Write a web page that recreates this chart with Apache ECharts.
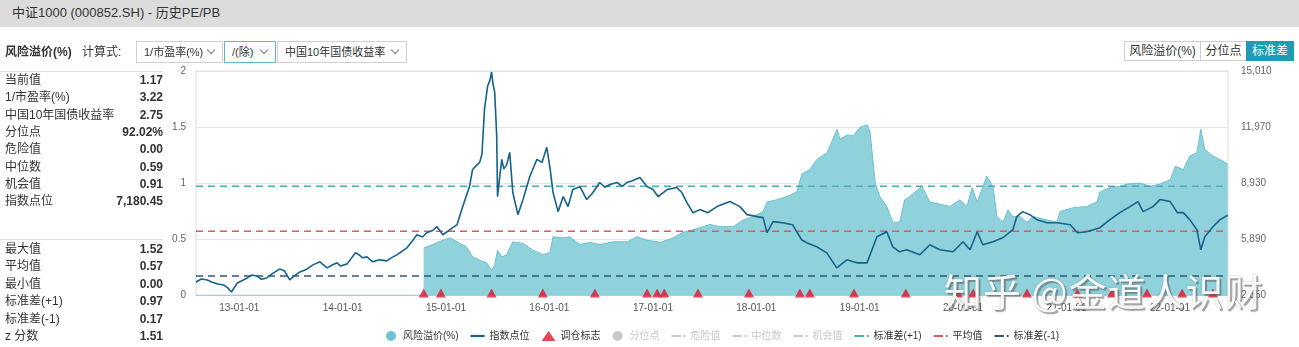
<!DOCTYPE html>
<html>
<head>
<meta charset="utf-8">
<script src="https://cdn.jsdelivr.net/npm/echarts@6/dist/echarts.min.js"></script>
<style>
  html, body { margin: 0; padding: 0; width: 1299px; height: 347px; overflow: hidden; background: #fff;
    font-family: "Helvetica Neue", Helvetica, Arial, "Liberation Sans", "Noto Sans CJK SC", sans-serif; color: #333; }
  #chart { position: absolute; left: 0; top: 0; width: 1299px; height: 347px; z-index: 0; }
  .ov { position: absolute; z-index: 2; }
  #hdr { left: 0; top: 0; width: 1299px; height: 27px; background: #dcdcdc; font-size: 13px; line-height: 25px; padding-left: 12px; box-sizing: border-box; color: #333; }
  .tb { font-size: 12px; line-height: 22px; top: 41px; }
  .box { top: 41px; height: 22px; box-sizing: border-box; border: 1px solid #d0d0d0; font-size: 11px; line-height: 20px; padding-left: 7px; color: #333; background: #fff; }
  .box .chev { position: absolute; right: 8px; top: 5px; width: 5px; height: 5px; border-right: 1px solid #777; border-bottom: 1px solid #777; transform: rotate(45deg); }
  .btn { top: 41px; height: 20px; box-sizing: border-box; border: 1px solid #d0d0d0; font-size: 12px; line-height: 18px; text-align: center; color: #333; background: #fff; }
  .sep { position: absolute; left: 0; width: 163px; height: 1px; background: #dedede; z-index: 2; }
  .row { position: absolute; left: 5px; width: 158px; font-size: 12px; z-index: 2; }
  .row .v { position: absolute; right: 0; top: 0; font-weight: bold; }
  #wm { left: 944px; top: 268px; font-size: 38px; color: rgba(255,255,255,0.92); font-family: "Noto Sans CJK SC", sans-serif; letter-spacing: 1px;
    text-shadow: 2px 2px 1px rgba(90,90,90,0.55), 0 0 2px rgba(120,120,120,0.5); white-space: nowrap; line-height: 44px; }
</style>
</head>
<body>
<div id="chart"></div>
<div id="hdr" class="ov">中证1000 (000852.SH) - 历史PE/PB</div>
<div class="ov tb" style="left:5px;font-weight:bold;">风险溢价(%)</div>
<div class="ov tb" style="left:82px;">计算式:</div>
<div class="ov box" style="left:136px;width:87px;">1/市盈率(%)<span class="chev"></span></div>
<div class="ov box" style="left:224px;width:52px;border-color:#5cb9c9;">/(除)<span class="chev"></span></div>
<div class="ov box" style="left:277px;width:130px;">中国10年国债收益率<span class="chev"></span></div>
<div class="ov btn" style="left:1124px;width:77px;">风险溢价(%)</div>
<div class="ov btn" style="left:1200px;width:47px;">分位点</div>
<div class="ov btn" style="left:1246px;width:48px;background:#1d9db5;border-color:#1d9db5;color:#fff;">标准差</div>
<div id="panel"></div>
<div id="wm" class="ov">知乎 @金道人识财</div>
<script>
// ---- data ----
const statsLabelsTop = ['当前值', '1/市盈率(%)', '中国10年国债收益率', '分位点', '危险值', '中位数', '机会值', '指数点位'];
const statsValuesTop = ['1.17', '3.22', '2.75', '92.02%', '0.00', '0.59', '0.91', '7,180.45'];
const statsLabelsBottom = ['最大值', '平均值', '最小值', '标准差(+1)', '标准差(-1)', 'z 分数'];
const statsValuesBottom = ['1.52', '0.57', '0.00', '0.97', '0.17', '1.51'];

const xRange = ['2012-08-01', '2022-07-25'];
const dangerValue = 0.00;
const medianValue = 0.59;
const opportunityValue = 0.91;
const stdPlusValue = 0.97;
const meanValue = 0.57;
const stdMinusValue = 0.17;

const indexPoints = [
  ['2012-08-01',3559],['2012-08-20',3720],['2012-09-10',3668],['2012-09-25',3560],['2012-10-17',3450],['2012-11-06',3395],['2012-11-20',3250],['2012-12-04',3014],['2012-12-25',3504],
  ['2013-01-29',3777],['2013-02-15',3940],['2013-03-04',3886],['2013-03-20',3700],['2013-04-08',3777],['2013-04-25',3980],['2013-05-24',4268],['2013-06-10',4150],['2013-06-28',3668],['2013-07-15',3900],['2013-08-03',4104],
  ['2013-08-25',4230],['2013-09-18',4486],['2013-10-13',4650],['2013-10-25',4480],['2013-11-07',4322],['2013-11-25',4480],['2013-12-12',4595],['2013-12-25',4420],['2014-01-17',4540],['2014-02-15',5140],
  ['2014-03-01',5020],['2014-03-13',4868],['2014-03-28',4920],['2014-04-17',4650],['2014-05-12',4759],['2014-06-06',4704],['2014-06-20',4850],['2014-07-11',5031],['2014-07-28',5200],['2014-08-16',5413],
  ['2014-09-05',5800],['2014-09-20',6122],['2014-10-10',6000],['2014-10-25',6231],['2014-11-15',6350],['2014-11-30',6558],['2014-12-21',6122],['2015-01-15',6394],['2015-02-09',6667],
  ['2015-03-01',7649],['2015-03-25',8739],['2015-04-05',9666],['2015-04-20',9900],['2015-04-30',10048],['2015-05-08',10500],['2015-05-17',12938],['2015-05-28',14192],
  ['2015-06-05',14500],['2015-06-11',14955],['2015-06-16',14300],['2015-06-22',13865],['2015-06-29',11500],['2015-07-02',8194],['2015-07-10',9300],['2015-07-17',10212],['2015-07-24',9700],['2015-08-03',9900],['2015-08-14',10593],['2015-08-25',8412],
  ['2015-09-12',7212],['2015-09-30',8030],['2015-10-24',9285],['2015-11-18',10212],['2015-12-06',10048],['2015-12-23',10866],
  ['2016-01-04',9666],['2016-01-14',8412],['2016-02-01',7376],['2016-02-19',8194],['2016-03-07',7649],['2016-03-24',8576],
  ['2016-04-18',8739],['2016-05-12',8030],['2016-06-03',8412],['2016-06-27',8957],['2016-07-15',8700],['2016-08-02',8848],['2016-08-27',8957],
  ['2016-09-15',8750],['2016-10-01',8957],['2016-10-20',9050],['2016-11-16',9230],['2016-12-11',8739],['2017-01-01',8576],['2017-01-19',8194],['2017-02-20',8576],
  ['2017-03-26',8685],['2017-04-13',8412],['2017-05-01',7867],['2017-05-22',7321],['2017-06-16',7485],['2017-07-14',7321],
  ['2017-08-15',7649],['2017-09-30',7921],['2017-11-04',7649],['2017-11-29',7212],['2018-01-04',7103],['2018-01-25',7049],
  ['2018-02-08',6231],['2018-03-01',6831],['2018-04-04',6776],['2018-05-09',6667],['2018-06-10',5849],['2018-06-28',5686],
  ['2018-08-02',5467],['2018-09-07',5140],['2018-10-12',4322],['2018-11-17',4759],['2018-12-22',4595],['2019-01-27',4595],
  ['2019-03-03',6013],['2019-04-07',6285],['2019-04-28',5467],['2019-05-22',5195],['2019-06-16',5304],['2019-08-01',5031],
  ['2019-09-06',5577],['2019-10-11',5304],['2019-11-27',5195],['2020-01-01',5740],['2020-01-26',5304],['2020-02-20',6285],
  ['2020-03-11',5577],['2020-04-16',5740],['2020-05-21',5958],['2020-06-25',6394],['2020-07-09',7103],['2020-07-30',7376],
  ['2020-08-24',7212],['2020-09-18',6940],['2020-10-24',6776],['2020-11-28',6776],['2021-01-14',6667],['2021-02-08',6231],
  ['2021-03-13',6285],['2021-04-29',6504],['2021-06-03',6940],['2021-07-08',7321],['2021-08-13',7649],['2021-09-10',7921],
  ['2021-09-28',7376],['2021-11-02',7649],['2021-11-27',8030],['2022-01-02',7921],['2022-01-27',7321],['2022-02-17',7321],
  ['2022-03-12',6940],['2022-04-06',6394],['2022-04-20',5304],['2022-05-04',6013],['2022-06-02',6558],['2022-06-27',6940],
  ['2022-07-24',7180]
];

const premiumPoints = [
  ['2014-10-14',0.42],['2014-11-15',0.45],['2014-12-21',0.49],['2015-01-15',0.51],['2015-02-09',0.475],['2015-03-14',0.43],
  ['2015-04-05',0.34],['2015-04-30',0.31],['2015-05-24',0.29],['2015-06-11',0.22],['2015-06-22',0.27],['2015-07-02',0.40],
  ['2015-07-16',0.34],['2015-08-03',0.36],['2015-08-25',0.475],['2015-09-30',0.46],['2015-11-04',0.40],['2015-12-09',0.36],
  ['2016-01-03',0.38],['2016-01-14',0.52],['2016-02-19',0.51],['2016-03-13',0.52],['2016-04-18',0.45],['2016-05-23',0.47],
  ['2016-06-28',0.45],['2016-08-13',0.475],['2016-10-02',0.475],['2016-11-06',0.52],['2016-12-11',0.49],['2017-01-27',0.47],
  ['2017-03-12',0.51],['2017-04-17',0.56],['2017-06-16',0.60],['2017-07-21',0.63],['2017-08-26',0.61],['2017-10-11',0.61],
  ['2017-11-16',0.67],['2017-12-21',0.70],['2018-01-25',0.745],['2018-02-08',0.83],['2018-03-14',0.85],['2018-04-19',0.88],
  ['2018-05-24',0.92],['2018-06-11',1.08],['2018-07-09',1.12],['2018-08-03',1.21],['2018-09-08',1.27],['2018-10-13',1.48],
  ['2018-10-24',1.39],['2018-11-18',1.43],['2018-12-09',1.42],['2019-01-03',1.50],['2019-01-28',1.52],['2019-02-07',1.45],
  ['2019-02-25',1.00],['2019-03-13',0.88],['2019-04-07',0.79],['2019-04-28',0.65],['2019-05-22',0.65],['2019-06-09',0.85],
  ['2019-06-27',0.88],['2019-08-09',0.97],['2019-09-06',0.83],['2019-10-12',0.81],['2019-11-16',0.79],['2019-12-21',0.85],
  ['2020-01-15',0.79],['2020-02-02',0.96],['2020-02-20',0.83],['2020-03-25',1.06],['2020-04-16',0.97],['2020-04-30',0.70],
  ['2020-05-21',0.65],['2020-06-08',0.76],['2020-06-25',0.70],['2020-07-20',0.70],['2020-08-14',0.65],['2020-09-04',0.70],
  ['2020-10-24',0.67],['2020-11-28',0.65],['2020-12-09',0.745],['2021-01-25',0.78],['2021-03-13',0.79],['2021-04-18',0.83],
  ['2021-04-29',0.92],['2021-06-03',0.96],['2021-07-08',0.97],['2021-08-02',0.99],['2021-09-18',1.00],['2021-10-23',0.97],
  ['2021-11-27',0.99],['2022-01-02',1.03],['2022-01-20',1.15],['2022-02-17',1.12],['2022-03-12',1.24],['2022-04-06',1.27],
  ['2022-04-20',1.48],['2022-05-04',1.30],['2022-06-02',1.24],['2022-06-27',1.21],['2022-07-24',1.17]
];

const tradeDates = ['2014-10-14','2014-12-14','2015-06-11','2015-12-09','2016-06-10','2016-12-11','2017-01-16','2017-02-10',
  '2017-06-09','2017-12-06','2018-06-04','2018-07-09','2018-12-12','2019-06-13','2019-12-14','2020-02-06','2020-08-14',
  '2021-02-08','2021-06-10','2021-10-12','2022-02-13','2022-06-02'];

const percentilePoints = [];

// ---- left panel ----
const panel = document.getElementById('panel');
function addSep(top) { const s = document.createElement('div'); s.className = 'sep'; s.style.top = top + 'px'; panel.appendChild(s); }
function addRows(labels, values, top, step) {
  labels.forEach((lab, i) => {
    const r = document.createElement('div'); r.className = 'row';
    r.style.top = (top + i * step) + 'px'; r.style.lineHeight = step + 'px';
    r.textContent = lab;
    const v = document.createElement('span'); v.className = 'v'; v.textContent = values[i];
    r.appendChild(v); panel.appendChild(r);
  });
}
addSep(71); addRows(statsLabelsTop, statsValuesTop, 72, 17.3);
addSep(239); addRows(statsLabelsBottom, statsValuesBottom, 240.5, 17.5);

// ---- chart ----
const chart = echarts.init(document.getElementById('chart'), null, { renderer: 'canvas' });
const pad = n => (n < 10 ? '0' : '') + n;
const hline = v => [[xRange[0], v], [xRange[1], v]];
const dashDot = 'path://M0,0h10v2h-10z M13,0h2v2h-2z';
const dash = [7, 5];
const YEAR = 365 * 24 * 3600 * 1000;

const option = {
  animation: false,
  textStyle: { fontFamily: 'Helvetica Neue, Arial, Liberation Sans, Noto Sans CJK SC, sans-serif' },
  grid: { left: 196, right: 71, top: 71, bottom: 52, show: true, borderColor: '#dcdcdc', borderWidth: 1 },
  legend: {
    left: 381, top: 326, itemWidth: 14, itemHeight: 10, itemGap: 12,
    textStyle: { fontSize: 10, color: '#333' }, inactiveColor: '#c8c8c8',
    selected: { '分位点': false, '危险值': false, '中位数': false, '机会值': false },
    data: [
      { name: '风险溢价(%)', icon: 'circle' },
      { name: '指数点位', icon: 'path://M0,0h14v2.2h-14z' },
      { name: '调仓标志', icon: 'triangle' },
      { name: '分位点', icon: 'circle' },
      { name: '危险值', icon: dashDot },
      { name: '中位数', icon: dashDot },
      { name: '机会值', icon: dashDot },
      { name: '标准差(+1)', icon: dashDot },
      { name: '平均值', icon: dashDot },
      { name: '标准差(-1)', icon: dashDot }
    ]
  },
  xAxis: {
    type: 'time', min: xRange[0], max: xRange[1],
    minInterval: YEAR, maxInterval: YEAR + 2 * 24 * 3600 * 1000,
    axisLine: { lineStyle: { color: '#9fd0dc', width: 1 } },
    axisTick: { show: false },
    splitLine: { show: false },
    axisLabel: {
      color: '#555', fontSize: 10, margin: 8,
      formatter: v => { const d = new Date(v); return pad(d.getFullYear() % 100) + '-' + pad(d.getMonth() + 1) + '-' + pad(d.getDate()); }
    }
  },
  yAxis: [
    { type: 'value', min: 0, max: 2, interval: 0.5, position: 'left',
      axisLine: { show: false }, axisTick: { show: false },
      axisLabel: { color: '#666', fontSize: 10, margin: 10 },
      splitLine: { lineStyle: { color: '#e6e6e6' } } },
    { type: 'value', min: 2850, max: 15010, interval: 3040, position: 'right',
      axisLine: { show: false }, axisTick: { show: false },
      axisLabel: { color: '#666', fontSize: 10, margin: 13 },
      splitLine: { show: false } }
  ],
  series: [
    { name: '风险溢价(%)', type: 'line', yAxisIndex: 0, data: premiumPoints, symbol: 'none', color: '#6cc4d0',
      lineStyle: { color: '#6cc1cd', width: 1 }, areaStyle: { color: '#8fd2dc', opacity: 1 }, z: 2 },
    { name: '分位点', type: 'line', yAxisIndex: 0, data: percentilePoints, symbol: 'none', color: '#aaaaaa' },
    { name: '危险值', type: 'line', yAxisIndex: 0, data: hline(dangerValue), symbol: 'none', color: '#e6a23c', lineStyle: { type: dash, width: 1.5 } },
    { name: '中位数', type: 'line', yAxisIndex: 0, data: hline(medianValue), symbol: 'none', color: '#999999', lineStyle: { type: dash, width: 1.5 } },
    { name: '机会值', type: 'line', yAxisIndex: 0, data: hline(opportunityValue), symbol: 'none', color: '#67c23a', lineStyle: { type: dash, width: 1.5 } },
    { name: '标准差(+1)', type: 'line', yAxisIndex: 0, data: hline(stdPlusValue), symbol: 'none', color: '#4daab8', lineStyle: { type: dash, width: 1.5 }, z: 3 },
    { name: '平均值', type: 'line', yAxisIndex: 0, data: hline(meanValue), symbol: 'none', color: '#e0585c', lineStyle: { type: dash, width: 1.5 }, z: 3 },
    { name: '标准差(-1)', type: 'line', yAxisIndex: 0, data: hline(stdMinusValue), symbol: 'none', color: '#34587c', lineStyle: { type: dash, width: 1.5 }, z: 3 },
    { name: '指数点位', type: 'line', yAxisIndex: 1, data: indexPoints, symbol: 'none', color: '#15628a',
      lineStyle: { color: '#15628a', width: 1.6 }, z: 4 },
    { name: '调仓标志', type: 'scatter', yAxisIndex: 0, data: tradeDates.map(d => [d, 0]), symbol: 'triangle',
      symbolSize: [10, 9], symbolOffset: [0, -2], color: '#e2142c', z: 5, clip: false }
  ]
};
chart.setOption(option);
</script>
</body>
</html>
